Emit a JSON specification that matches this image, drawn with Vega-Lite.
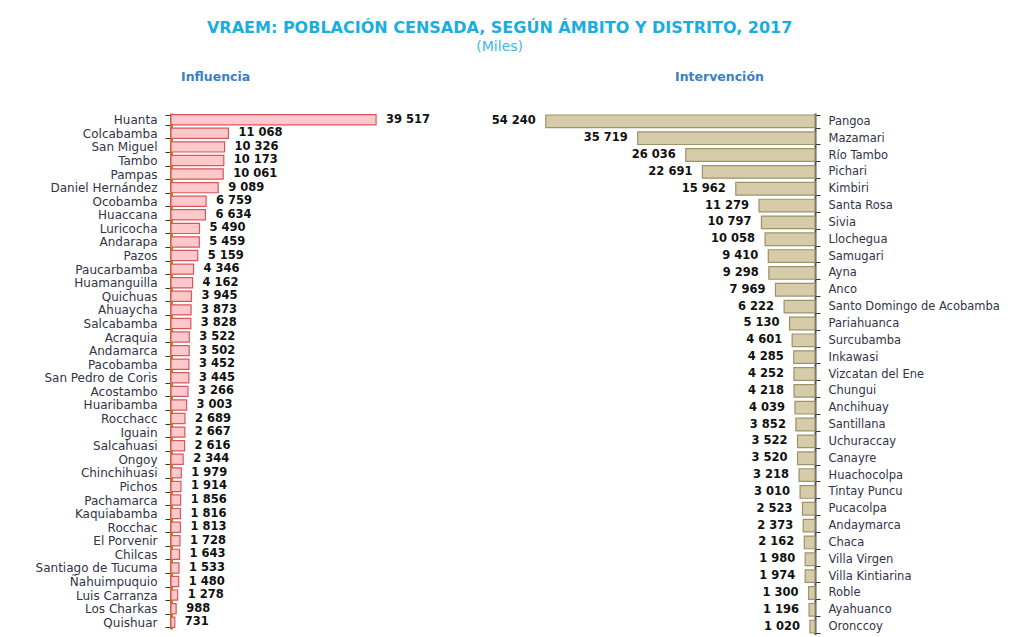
{
  "$schema": "https://vega.github.io/schema/vega-lite/v6.json",
  "padding": {"left": 0, "top": 19, "right": 0, "bottom": 0},
  "background": "white",
  "title": {
    "text": "VRAEM: POBLACIÓN CENSADA, SEGÚN ÁMBITO Y DISTRITO, 2017",
    "subtitle": "(Miles)",
    "anchor": "middle",
    "font": "DejaVu Sans",
    "fontSize": 16,
    "fontWeight": "bold",
    "color": "#1AAEE0",
    "subtitleFont": "DejaVu Sans",
    "subtitleFontSize": 14,
    "subtitleColor": "#3DB6E8",
    "subtitlePadding": 4,
    "offset": 17
  },
  "datasets": {
    "influencia": [
      {"distrito": "Huanta", "poblacion": 39517},
      {"distrito": "Colcabamba", "poblacion": 11068},
      {"distrito": "San Miguel", "poblacion": 10326},
      {"distrito": "Tambo", "poblacion": 10173},
      {"distrito": "Pampas", "poblacion": 10061},
      {"distrito": "Daniel Hernández", "poblacion": 9089},
      {"distrito": "Ocobamba", "poblacion": 6759},
      {"distrito": "Huaccana", "poblacion": 6634},
      {"distrito": "Luricocha", "poblacion": 5490},
      {"distrito": "Andarapa", "poblacion": 5459},
      {"distrito": "Pazos", "poblacion": 5159},
      {"distrito": "Paucarbamba", "poblacion": 4346},
      {"distrito": "Huamanguilla", "poblacion": 4162},
      {"distrito": "Quichuas", "poblacion": 3945},
      {"distrito": "Ahuaycha", "poblacion": 3873},
      {"distrito": "Salcabamba", "poblacion": 3828},
      {"distrito": "Acraquia", "poblacion": 3522},
      {"distrito": "Andamarca", "poblacion": 3502},
      {"distrito": "Pacobamba", "poblacion": 3452},
      {"distrito": "San Pedro de Coris", "poblacion": 3445},
      {"distrito": "Acostambo", "poblacion": 3266},
      {"distrito": "Huaribamba", "poblacion": 3003},
      {"distrito": "Rocchacc", "poblacion": 2689},
      {"distrito": "Iguain", "poblacion": 2667},
      {"distrito": "Salcahuasi", "poblacion": 2616},
      {"distrito": "Ongoy", "poblacion": 2344},
      {"distrito": "Chinchihuasi", "poblacion": 1979},
      {"distrito": "Pichos", "poblacion": 1914},
      {"distrito": "Pachamarca", "poblacion": 1856},
      {"distrito": "Kaquiabamba", "poblacion": 1816},
      {"distrito": "Rocchac", "poblacion": 1813},
      {"distrito": "El Porvenir", "poblacion": 1728},
      {"distrito": "Chilcas", "poblacion": 1643},
      {"distrito": "Santiago de Tucuma", "poblacion": 1533},
      {"distrito": "Ñahuimpuquio", "poblacion": 1480},
      {"distrito": "Luis Carranza", "poblacion": 1278},
      {"distrito": "Los Charkas", "poblacion": 988},
      {"distrito": "Quishuar", "poblacion": 731}
    ],
    "intervencion": [
      {"distrito": "Pangoa", "poblacion": 54240},
      {"distrito": "Mazamari", "poblacion": 35719},
      {"distrito": "Río Tambo", "poblacion": 26036},
      {"distrito": "Pichari", "poblacion": 22691},
      {"distrito": "Kimbiri", "poblacion": 15962},
      {"distrito": "Santa Rosa", "poblacion": 11279},
      {"distrito": "Sivia", "poblacion": 10797},
      {"distrito": "Llochegua", "poblacion": 10058},
      {"distrito": "Samugari", "poblacion": 9410},
      {"distrito": "Ayna", "poblacion": 9298},
      {"distrito": "Anco", "poblacion": 7969},
      {"distrito": "Santo Domingo de Acobamba", "poblacion": 6222},
      {"distrito": "Pariahuanca", "poblacion": 5130},
      {"distrito": "Surcubamba", "poblacion": 4601},
      {"distrito": "Inkawasi", "poblacion": 4285},
      {"distrito": "Vizcatan del Ene", "poblacion": 4252},
      {"distrito": "Chungui", "poblacion": 4218},
      {"distrito": "Anchihuay", "poblacion": 4039},
      {"distrito": "Santillana", "poblacion": 3852},
      {"distrito": "Uchuraccay", "poblacion": 3522},
      {"distrito": "Canayre", "poblacion": 3520},
      {"distrito": "Huachocolpa", "poblacion": 3218},
      {"distrito": "Tintay Puncu", "poblacion": 3010},
      {"distrito": "Pucacolpa", "poblacion": 2523},
      {"distrito": "Andaymarca", "poblacion": 2373},
      {"distrito": "Chaca", "poblacion": 2162},
      {"distrito": "Villa Virgen", "poblacion": 1980},
      {"distrito": "Villa Kintiarina", "poblacion": 1974},
      {"distrito": "Roble", "poblacion": 1300},
      {"distrito": "Ayahuanco", "poblacion": 1196},
      {"distrito": "Oronccoy", "poblacion": 1020}
    ]
  },
  "spacing": 49,
  "hconcat": [
    {
      "width": 260,
      "height": 516,
      "data": {"name": "influencia"},
      "title": {"text": "Influencia", "anchor": "start", "dx": 181, "offset": 24, "font": "DejaVu Sans", "fontSize": 12.5, "fontWeight": "bold", "color": "#3B7FC4"},
      "encoding": {
        "y": {
          "field": "distrito", "type": "nominal", "sort": null,
          "scale": {"paddingInner": 0.25, "paddingOuter": 0.12},
          "axis": {"orient": "left", "title": null, "domainColor": "#B8860B", "domainWidth": 3, "tickColor": "#333333", "tickSize": 6, "tickWidth": 1, "tickBand": "extent", "labelPadding": 8, "labelFont": "DejaVu Sans", "labelFontSize": 12, "labelColor": "#333344", "minExtent": 171, "maxExtent": 171, "labelLimit": 170}
        }
      },
      "layer": [
        {
          "mark": {"type": "bar", "fill": "#FFC8CB", "stroke": "#DA565C", "strokeWidth": 1.2},
          "encoding": {"x": {"field": "poblacion", "type": "quantitative", "scale": {"domain": [0, 50100], "nice": false}, "axis": null}}
        },
        {
          "mark": {"type": "text", "align": "left", "dx": 10, "font": "DejaVu Sans", "fontSize": 11.5, "fontWeight": "bold", "color": "#111111"},
          "encoding": {
            "x": {"field": "poblacion", "type": "quantitative"},
            "text": {"field": "poblacion", "type": "quantitative", "format": ",d"}
          }
        }
      ]
    },
    {
      "width": 335,
      "height": 522,
      "data": {"name": "intervencion"},
      "title": {"text": "Intervención", "anchor": "start", "dx": 195, "offset": 24, "font": "DejaVu Sans", "fontSize": 12.5, "fontWeight": "bold", "color": "#3B7FC4"},
      "encoding": {
        "y": {
          "field": "distrito", "type": "nominal", "sort": null,
          "scale": {"paddingInner": 0.25, "paddingOuter": 0.12},
          "axis": {"orient": "right", "title": null, "domainColor": "#555555", "domainWidth": 2, "tickColor": "#333333", "tickSize": 5, "tickWidth": 1, "tickBand": "extent", "labelPadding": 8, "labelFont": "DejaVu Sans", "labelFontSize": 11.5, "labelColor": "#333344", "labelLimit": 250}
        }
      },
      "layer": [
        {
          "mark": {"type": "bar", "fill": "#D6CCAA", "stroke": "#9E9268", "strokeWidth": 1.2},
          "encoding": {"x": {"field": "poblacion", "type": "quantitative", "scale": {"domain": [0, 67500], "nice": false, "reverse": true}, "axis": null}}
        },
        {
          "mark": {"type": "text", "align": "right", "dx": -10, "font": "DejaVu Sans", "fontSize": 11.5, "fontWeight": "bold", "color": "#111111"},
          "encoding": {
            "x": {"field": "poblacion", "type": "quantitative"},
            "text": {"field": "poblacion", "type": "quantitative", "format": ",d"}
          }
        }
      ]
    }
  ],
  "config": {
    "view": {"stroke": null},
    "locale": {"number": {"decimal": ",", "thousands": " ", "grouping": [3], "currency": ["", ""]}}
  }
}
